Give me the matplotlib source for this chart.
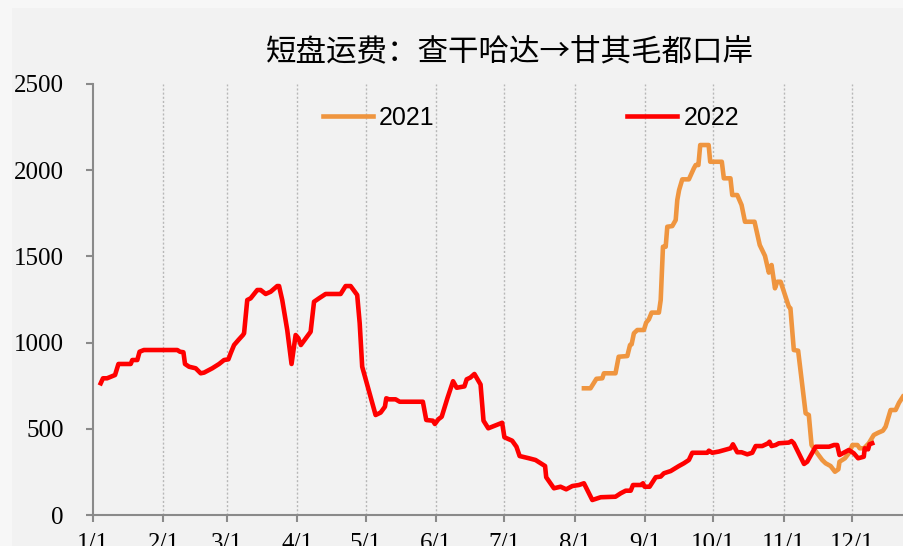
#!/usr/bin/env python3
"""
Short-haul freight chart: Ceke (查干哈达) -> Ganqimaodu port, 2021 vs 2022
"""

import matplotlib
matplotlib.use("Agg")
import matplotlib.pyplot as plt
from matplotlib.patches import Rectangle

# Day of year (0 = 1/1) and freight values
days_2022 = [3.4, 4.4, 6.2, 9.7, 11.2, 16.6, 17.3, 19.5, 20.5, 22.4, 37.1, 38.3, 39.8, 40.5,
             42.3, 45.2, 47.4, 48.9, 52.5, 55.5, 57.7, 59.6, 60.6, 62.1, 64.0, 66.0, 66.5,
             67.9, 69.4, 72.3, 73.8, 76.0, 78.2, 81.1, 81.9, 83.3, 85.5, 87.4, 89.2, 90.4,
             91.5, 95.8, 97.3, 99.5, 102.4, 109.0, 111.2, 113.4, 116.3, 117.4, 118.5, 124.4,
             126.6, 128.5, 129.1, 130.3, 133.2, 135.0, 145.2, 146.7, 149.6, 150.5, 152.0,
             153.5, 156.0, 158.5, 160.1, 163.5, 164.5, 166.1, 167.9, 170.6, 171.9, 174.0,
             180.1, 181.1, 184.5, 186.4, 187.8, 191.9, 194.8, 199.0, 199.5, 202.9, 205.8,
             208.3, 211.0, 213.9, 216.1, 219.8, 223.5, 230.0, 232.3, 234.5, 236.7, 237.7,
             241.4, 242.1, 242.8, 245.0, 247.7, 249.9, 251.3, 254.3, 257.9, 260.1, 262.3,
             263.8, 270.4, 271.1, 272.6, 275.5, 280.7, 281.7, 283.6, 285.5, 288.0, 290.2,
             291.7, 294.6, 297.2, 297.8, 298.7, 300.5, 301.9, 306.3, 307.5, 308.5, 313.0,
             314.4, 318.1, 324.0, 326.2, 327.6, 328.6, 332.7, 334.9, 336.8, 339.3, 339.7,
             341.2, 341.8, 343.0]
vals_2022 = [764, 793, 793, 812, 876, 876, 899, 899, 947, 957, 957, 947, 944, 876,
             860, 851, 822, 826, 851, 876, 899, 903, 938, 986, 1015, 1044, 1054,
             1247, 1257, 1305, 1305, 1282, 1295, 1328, 1328, 1247, 1073, 876, 1044, 1025,
             986, 1063, 1237, 1257, 1282, 1282, 1328, 1328, 1276, 1112, 860, 580,
             594, 628, 677, 671, 671, 657, 657, 551, 547, 528, 555,
             570, 677, 776, 738, 746, 787, 797, 818, 757, 547, 503,
             535, 451, 431, 396, 342, 329, 319, 284, 219, 155, 164,
             149, 168, 174, 184, 87, 103, 106, 126, 141, 141, 174,
             174, 184, 164, 164, 219, 223, 242, 255, 284, 300, 319,
             361, 361, 373, 361, 368, 387, 410, 364, 364, 352, 361,
             400, 400, 416, 425, 400, 406, 416, 420, 429, 416, 296,
             309, 396, 396, 406, 406, 348, 377, 358, 329, 338, 387,
             381, 410, 416]

days_2021 = [216.1, 219.0, 221.6, 224.2, 224.9, 230.0, 231.4, 235.2, 236.4, 237.1, 238.1,
             239.6, 242.5, 243.5, 244.7, 245.9, 249.1, 249.9, 250.9, 252.1, 252.8, 255.0,
             256.5, 257.2, 258.0, 259.4, 262.3, 264.5, 265.3, 266.5, 267.3, 271.0, 271.7,
             276.8, 277.7, 280.6, 281.4, 283.6, 285.5, 287.0, 291.2, 293.5, 295.8, 297.5,
             298.7, 300.2, 301.2, 302.7, 306.3, 307.0, 308.5, 310.4, 313.7, 315.1, 316.3,
             318.8, 321.0, 322.5, 324.7, 326.6, 328.1, 328.6, 331.0, 332.7, 334.3, 336.5,
             337.5, 339.4, 341.5, 343.7, 345.6, 347.7, 348.9, 351.1, 353.3, 354.8, 356.5]
vals_2021 = [735, 735, 790, 793, 822, 822, 918, 922, 986, 990, 1054,
             1073, 1073, 1116, 1135, 1174, 1174, 1247, 1556, 1556, 1672, 1676,
             1711, 1827, 1885, 1947, 1947, 2011, 2030, 2030, 2146, 2146, 2049,
             2049, 1953, 1953, 1856, 1856, 1798, 1701, 1701, 1566, 1503, 1406,
             1450, 1315, 1353, 1353, 1208, 1199, 957, 953, 590, 580, 406,
             358, 319, 300, 284, 251, 265, 309, 329, 358, 406, 406,
             387, 387, 416, 464, 477, 489, 512, 609, 609, 651, 686]

month_starts = [0, 31, 59, 90, 120, 151, 181, 212, 243, 273, 304, 334]
month_labels = ['1/1', '2/1', '3/1', '4/1', '5/1', '6/1', '7/1', '8/1', '9/1', '10/1', '11/1', '12/1']

W, H = 904, 546
fig = plt.figure(figsize=(W / 100, H / 100), dpi=100)
fig.patch.set_facecolor('#f7f7f7')
fig.patches.append(Rectangle((12 / W, 0), 1, 1 - 8 / H, transform=fig.transFigure,
                             facecolor='#f2f2f2', edgecolor='none', zorder=-10))

ax = fig.add_axes([93 / W, 1 - 515 / H, 1 - 93 / W, (515 - 84) / H])
ax.set_zorder(1)
ax.set_facecolor('#f2f2f2')

# month gridlines
for d in month_starts[1:]:
    ax.axvline(d, color='#b8b8b8', linestyle=(0, (1.5, 1.5)), linewidth=1, zorder=1)

ax.plot(days_2021, vals_2021, color='#ef953f', linewidth=3.3, label='2021', zorder=3,
        solid_joinstyle='round')
ax.plot(days_2022, vals_2022, color='#ff0000', linewidth=3.3, label='2022', zorder=4,
        solid_joinstyle='round')

ax.set_xlim(0, 357)
ax.set_ylim(0, 2500)
ax.set_yticks([0, 500, 1000, 1500, 2000, 2500])
ax.set_xticks(month_starts)
ax.set_xticklabels(month_labels)

for s in ['top', 'right']:
    ax.spines[s].set_visible(False)
for s in ['left', 'bottom']:
    ax.spines[s].set_color('#8a8a8a')
    ax.spines[s].set_linewidth(1.5)

ax.tick_params(axis='y', length=5, width=1.5, color='#8a8a8a', pad=16,
               labelsize=18, labelfontfamily='Liberation Serif')
ax.tick_params(axis='x', length=5, width=1.5, color='#8a8a8a', pad=8,
               labelsize=18, labelfontfamily='Liberation Serif')

leg = ax.legend(loc='center', bbox_to_anchor=(531 / W, 1 - 118 / H),
                bbox_transform=fig.transFigure, ncol=2, frameon=False,
                handlelength=2.0, handletextpad=0.25, columnspacing=7.7,
                prop={'family': 'Liberation Sans', 'size': 18})

fig.text(510 / W, 1 - 52 / H, '短盘运费：查干哈达→甘其毛都口岸', ha='center', va='center',
         fontsize=22, fontweight='medium', family=['Noto Sans CJK SC', 'DejaVu Sans'])

plt.savefig('out.png', dpi=100, facecolor=fig.get_facecolor())
